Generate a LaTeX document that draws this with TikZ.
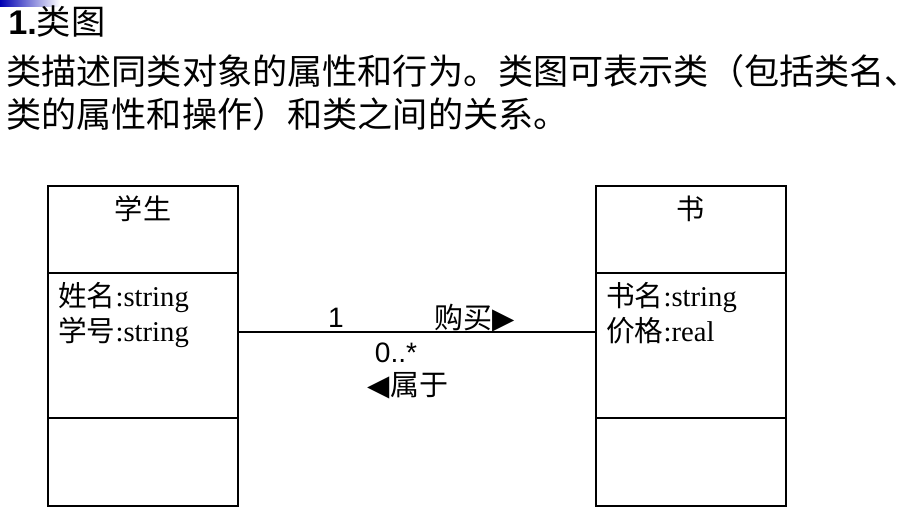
\documentclass[tikz,border=0pt]{standalone}
\usepackage{fontspec}
\setmainfont{Liberation Serif}
\newfontfamily\cjk{Noto Sans CJK SC}
\newfontfamily\arial{Liberation Sans}
\newfontfamily\dv{DejaVu Sans}
\begin{document}
\begin{tikzpicture}[x=0.02cm,y=-0.02cm,
  box/.style={draw,line width=0.9pt},
  txt/.style={inner sep=0pt,anchor=west}]
\useasboundingbox (0,0) rectangle (920,522);
\shade[left color=blue!70!black,right color=white] (0,0) rectangle (60,6);
\node[txt,anchor=base west] (title) at (8,34) {\fontsize{19.5}{23}\selectfont{\arial\bfseries 1.}\cjk 类图};
\node[txt,anchor=base west] (l1) at (6,84) {\fontsize{20}{24}\selectfont\cjk 类描述同类对象的属性和行为。类图可表示类（包括类名、};
\node[txt,anchor=base west] (l2) at (6,127) {\fontsize{20}{24}\selectfont\cjk 类的属性和操作）和类之间的关系。};
% left class
\draw[box] (48,186) rectangle (238,506);
\draw[box] (48,273) -- (238,273);
\draw[box] (48,418) -- (238,418);
\node (sname) at (143,209) {\fontsize{16}{19}\selectfont\cjk 学生};
\node[txt,anchor=base west] (sa1) at (58,306) {\fontsize{16.3}{19}\selectfont{\cjk 姓名}:string};
\node[txt,anchor=base west] (sa2) at (58,341) {\fontsize{16.3}{19}\selectfont{\cjk 学号}:string};
% right class
\draw[box] (596,186) rectangle (786,506);
\draw[box] (596,273) -- (786,273);
\draw[box] (596,418) -- (786,418);
\node (bname) at (691,209) {\fontsize{16}{19}\selectfont\cjk 书};
\node[txt,anchor=base west] (ba1) at (606,306) {\fontsize{16.3}{19}\selectfont{\cjk 书名}:string};
\node[txt,anchor=base west] (ba2) at (606,341) {\fontsize{16.3}{19}\selectfont{\cjk 价格}:real};
\coordinate (la) at (238,332);
\coordinate (ra) at (596,332);
\draw[line width=0.9pt] (la) -- (ra);
\node (m1) at (336,318) {\fontsize{16}{19}\selectfont\arial 1};
\node (buy) at (475,318) {\fontsize{16.5}{19}\selectfont{\cjk 购买}{\dv ▶}};
\node (m2) at (396,353) {\fontsize{16}{19}\selectfont\arial 0..*};
\node (belong) at (408,386) {\fontsize{16.5}{19}\selectfont{\dv ◀}{\cjk 属于}};
\end{tikzpicture}
\end{document}
